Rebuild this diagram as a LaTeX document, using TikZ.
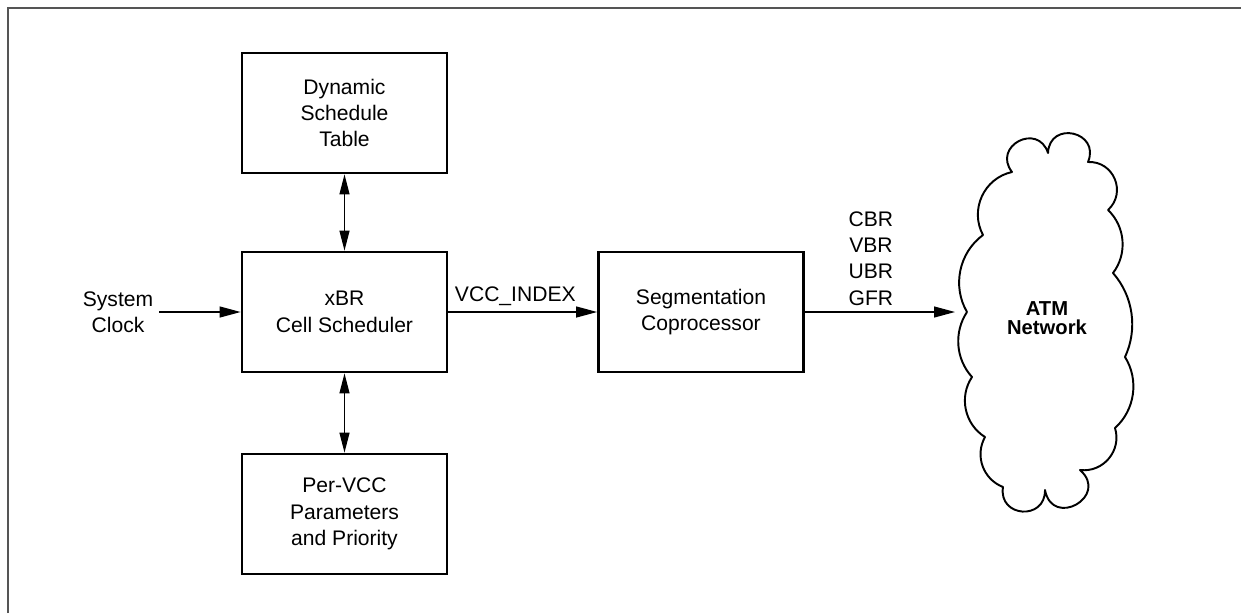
\documentclass[tikz,border=0pt]{standalone}
\usepackage{fontspec}
\setmainfont{Liberation Sans}
\usetikzlibrary{arrows.meta,positioning}
\definecolor{FrameGray}{HTML}{555555}
\tikzset{
  block/.style={draw,line width=1.6pt,minimum width=4.1cm,minimum height=2.4cm,
    inner sep=0pt,align=center,font=\fontsize{12}{15}\selectfont},
  lbl/.style={align=center,font=\fontsize{12}{15}\selectfont},
  sig/.style={line width=0.7pt,-{Triangle[length=0.42cm,width=0.22cm]}},
  bidir/.style={line width=0.7pt,
    {Triangle[length=0.4cm,width=0.2cm]}-{Triangle[length=0.4cm,width=0.2cm]}},
  puff/.style={line width=1.1pt,line join=round},
}

\begin{document}
\begin{tikzpicture}[x=0.02cm,y=-0.02cm]
  \useasboundingbox (0,0) rectangle (1241,613);
  \draw[FrameGray,line width=1.1pt] (8,613)--(8,8)--(1241,8);

  % blocks
  \node[block] (dst) at (344.5,113) {Dynamic\\Schedule\\Table};
  \node[block] (sched) at (344.5,312) {xBR\\Cell Scheduler};
  \node[block] (pervcc) at (344.5,514) {Per-VCC\\Parameters\\and Priority};
  \node[block] (seg) at (701,312) {Segmentation\\Coprocessor};
  \node[lbl] (clock) at (118,312) {System\\Clock};

  % network cloud
  \draw[puff] (967,312) to[bend left=42,looseness=0.97] (983,235)
    to[bend left=53,looseness=1.06] (1012,172)
    to[bend left=100,looseness=2.06] (1048,153)
    to[bend left=100,looseness=2.06] (1088,162)
    to[bend left=70,looseness=1.27] (1108,210)
    to[bend left=42,looseness=0.97] (1113,273)
    to[bend left=33,looseness=0.93] (1125,357)
    to[bend left=40,looseness=0.96] (1115,428)
    to[bend left=57,looseness=1.10] (1080,470)
    to[bend left=109,looseness=2.52] (1045,490)
    to[bend left=95,looseness=1.88] (1003,487)
    to[bend left=49,looseness=1.03] (985,437)
    to[bend left=46,looseness=1.0] (972,377)
    to[bend left=38,looseness=0.95] (967,312);
  \coordinate (atmin) at (955,312);
  \node[align=center,font=\bfseries\fontsize{11.5}{11}\selectfont] (atm) at (1047,318) {ATM\\Network};

  % connectors
  \draw[sig] (clock.east) -- (clock.east -| sched.west);
  \draw[sig] (sched.east) -- node[lbl,above,pos=0.45] (idx) {VCC\_INDEX} (seg.west);
  \draw[sig] (seg.east) -- node[lbl,above,pos=0.44] (rates) {CBR\\VBR\\UBR\\GFR} (atmin);
  \draw[bidir] (dst) -- (sched);
  \draw[bidir] (sched) -- (pervcc);
\end{tikzpicture}
\end{document}
